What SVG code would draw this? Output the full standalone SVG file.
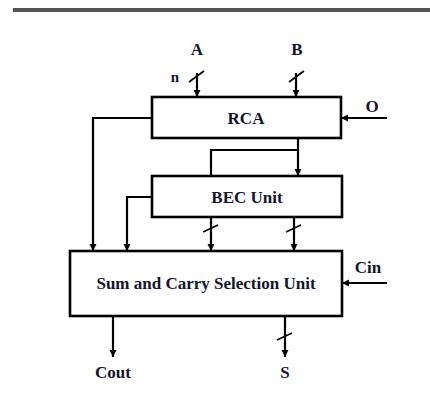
<svg xmlns="http://www.w3.org/2000/svg" width="430" height="405" viewBox="0 0 430 405">
<style>
.box{fill:#fff;stroke:#000;stroke-width:2.6}
.ln{fill:none;stroke:#000;stroke-width:2.2}
.sl{fill:none;stroke:#000;stroke-width:1.6}
text{font-family:"Liberation Serif","Times New Roman",serif;font-weight:bold;font-size:17px;fill:#15152e;text-anchor:middle}
</style>
<defs>
<marker id="ah" viewBox="0 0 10 10" refX="10" refY="5" markerWidth="3.2" markerHeight="3.2" orient="auto" markerUnits="strokeWidth">
<path d="M0,0 L10,5 L0,10 z" fill="#000"/>
</marker>
</defs>
<rect x="13" y="8" width="417" height="4" fill="#555"/>
<g id="connectors">
<line class="ln" x1="197" y1="73" x2="197" y2="97" marker-end="url(#ah)"/>
<line class="ln" x1="296" y1="73" x2="296" y2="97" marker-end="url(#ah)"/>
<line class="sl" x1="189" y1="82" x2="204" y2="71"/>
<line class="sl" x1="289" y1="82" x2="304" y2="71"/>
<line class="ln" x1="387" y1="118" x2="341" y2="118" marker-end="url(#ah)"/>
<polyline class="ln" points="152,118 93,118 93,251" marker-end="url(#ah)"/>
<line class="ln" x1="298" y1="138" x2="298" y2="176" marker-end="url(#ah)"/>
<polyline class="ln" points="298,150 211,150 211,176"/>
<polyline class="ln" points="152,197 127,197 127,251" marker-end="url(#ah)"/>
<line class="ln" x1="211" y1="217" x2="211" y2="251" marker-end="url(#ah)"/>
<line class="ln" x1="294" y1="217" x2="294" y2="251" marker-end="url(#ah)"/>
<line class="sl" x1="203" y1="232" x2="218" y2="225"/>
<line class="sl" x1="286" y1="232" x2="301" y2="225"/>
<line class="ln" x1="387" y1="283" x2="342" y2="283" marker-end="url(#ah)"/>
<line class="ln" x1="113" y1="316" x2="113" y2="357" marker-end="url(#ah)"/>
<line class="ln" x1="285" y1="316" x2="285" y2="357" marker-end="url(#ah)"/>
<line class="sl" x1="277" y1="340" x2="292" y2="333"/>
</g>
<g id="rca">
<rect class="box" x="152" y="97" width="189" height="41"/>
<text x="246" y="124">RCA</text>
</g>
<g id="bec">
<rect class="box" x="152" y="176" width="190" height="41"/>
<text x="247" y="203">BEC Unit</text>
</g>
<g id="sum">
<rect class="box" x="70" y="251" width="272" height="65"/>
<text x="206" y="289">Sum and Carry Selection Unit</text>
</g>
<g id="labels">
<text x="197" y="55">A</text>
<text x="297" y="55">B</text>
<text x="175" y="82" style="font-size:15px">n</text>
<text x="372" y="112">O</text>
<text x="368" y="273">Cin</text>
<text x="113" y="378">Cout</text>
<text x="285" y="378">S</text>
</g>
</svg>
